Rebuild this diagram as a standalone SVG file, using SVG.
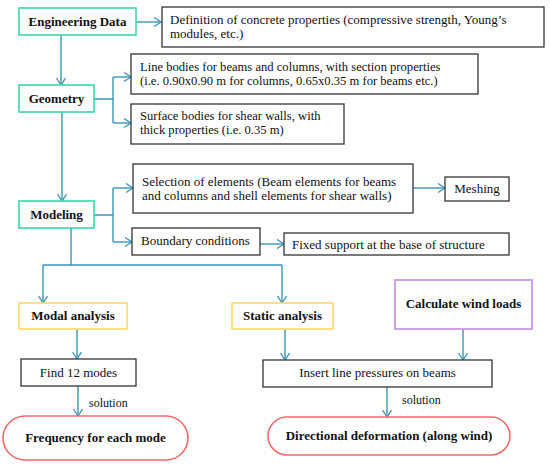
<svg xmlns="http://www.w3.org/2000/svg" width="550" height="465" viewBox="0 0 550 465">
<style>
text{font-family:"Liberation Serif","Times New Roman",serif;font-size:13px;fill:#111}
.b{font-weight:bold;font-size:13px}
.m{text-anchor:middle}
.s{font-size:12.6px}
.box{fill:#fff;stroke:#333;stroke-width:1.3}
.g{fill:#fff;stroke:#3CD6A6;stroke-width:1.6}
.y{fill:#fff;stroke:#FFD966;stroke-width:1.6}
.p{fill:#fff;stroke:#C58BE0;stroke-width:1.6}
.r{fill:#fff;stroke:#F26B6B;stroke-width:1.6}
.c{fill:none;stroke:#3A95B8;stroke-width:1.4}
.lbl{font-size:12px}
</style>
<defs>
<marker id="ah" markerUnits="userSpaceOnUse" markerWidth="10" markerHeight="12" refX="8" refY="5" orient="auto">
<path d="M1,0.5 L8,5 L1,9.5" fill="none" stroke="#3A95B8" stroke-width="1.3"/>
</marker>
</defs>
<rect width="550" height="465" fill="#fff"/>
<g id="connectors">
<path class="c" d="M136,22 H161" marker-end="url(#ah)"/>
<path class="c" d="M61,35 V85" marker-end="url(#ah)"/>
<path class="c" d="M94,99 H113 M113,77 V123"/>
<path class="c" d="M113,77 H131" marker-end="url(#ah)"/>
<path class="c" d="M113,123 H131" marker-end="url(#ah)"/>
<path class="c" d="M62,112 V201" marker-end="url(#ah)"/>
<path class="c" d="M94,215 H113 M113,188 V242"/>
<path class="c" d="M113,188 H133" marker-end="url(#ah)"/>
<path class="c" d="M113,242 H132" marker-end="url(#ah)"/>
<path class="c" d="M413,188 H445" marker-end="url(#ah)"/>
<path class="c" d="M260,244 H284" marker-end="url(#ah)"/>
<path class="c" d="M71,228 V265 M43,265 H282"/>
<path class="c" d="M43,265 V303" marker-end="url(#ah)"/>
<path class="c" d="M282,265 V303" marker-end="url(#ah)"/>
<path class="c" d="M77,329 V359" marker-end="url(#ah)"/>
<path class="c" d="M78,386 V416" marker-end="url(#ah)"/>
<path class="c" d="M285,329 V360" marker-end="url(#ah)"/>
<path class="c" d="M463,329 V360" marker-end="url(#ah)"/>
<path class="c" d="M387,387 V417" marker-end="url(#ah)"/>
<text class="lbl" x="89" y="407">solution</text>
<text class="lbl" x="402" y="404">solution</text>
</g>
<g id="engineering-data">
<rect class="g" x="19" y="8" width="117" height="27"/>
<text class="b m" x="77.5" y="26">Engineering Data</text>
</g>
<g id="definition">
<rect class="box" x="162" y="7" width="382" height="40"/>
<text x="170" y="24">Definition of concrete properties (compressive strength, Young’s</text>
<text x="170" y="38">modules, etc.)</text>
</g>
<g id="geometry">
<rect class="g" x="19" y="85" width="75" height="27"/>
<text class="b m" x="56.5" y="103">Geometry</text>
</g>
<g id="line-bodies">
<rect class="box" x="131" y="54" width="347" height="40"/>
<text class="s" x="140" y="71">Line bodies for beams and columns, with section properties</text>
<text class="s" x="140" y="85">(i.e. 0.90x0.90 m for columns, 0.65x0.35 m for beams etc.)</text>
</g>
<g id="surface-bodies">
<rect class="box" x="131" y="104" width="213" height="40"/>
<text class="s" x="140" y="120">Surface bodies for shear walls, with</text>
<text class="s" x="140" y="134">thick properties (i.e. 0.35 m)</text>
</g>
<g id="modeling">
<rect class="g" x="19" y="201" width="75" height="27"/>
<text class="b m" x="56.5" y="219">Modeling</text>
</g>
<g id="selection">
<rect class="box" x="133" y="164" width="280" height="49"/>
<text x="142" y="186">Selection of elements (Beam elements for beams</text>
<text x="142" y="200">and columns and shell elements for shear walls)</text>
</g>
<g id="meshing">
<rect class="box" x="445" y="177" width="64" height="24"/>
<text class="m" x="477" y="193">Meshing</text>
</g>
<g id="boundary">
<rect class="box" x="132" y="228" width="128" height="27"/>
<text x="141" y="245">Boundary conditions</text>
</g>
<g id="fixed-support">
<rect class="box" x="284" y="233" width="225" height="22"/>
<text x="292" y="249">Fixed support at the base of structure</text>
</g>
<g id="modal-analysis">
<rect class="y" x="19" y="303" width="108" height="26"/>
<text class="b m" x="73" y="320">Modal analysis</text>
</g>
<g id="static-analysis">
<rect class="y" x="232" y="303" width="101" height="26"/>
<text class="b m" x="282.5" y="320">Static analysis</text>
</g>
<g id="wind-loads">
<rect class="p" x="395" y="280" width="137" height="49"/>
<text class="b m" x="463.5" y="308">Calculate wind loads</text>
</g>
<g id="find-modes">
<rect class="box" x="21" y="359" width="115" height="27"/>
<text class="m" x="78.5" y="377">Find 12 modes</text>
</g>
<g id="insert-pressures">
<rect class="box" x="263" y="360" width="229" height="27"/>
<text class="m" x="377.5" y="377">Insert line pressures on beams</text>
</g>
<g id="frequency">
<rect class="r" x="3" y="416" width="185" height="44" rx="22" ry="22"/>
<text class="b m" x="95.5" y="442">Frequency for each mode</text>
</g>
<g id="directional">
<rect class="r" x="268" y="417" width="242" height="38" rx="19" ry="19"/>
<text class="b m" x="389" y="440">Directional deformation (along wind)</text>
</g>
</svg>
